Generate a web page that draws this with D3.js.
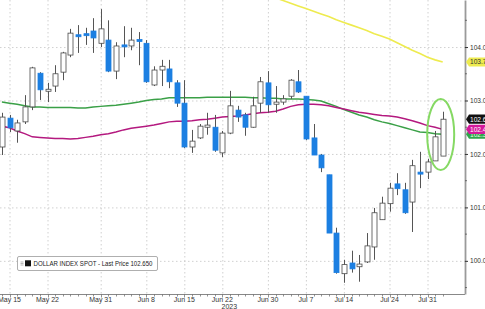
<!DOCTYPE html>
<html>
<head>
<meta charset="utf-8">
<script src="https://cdn.jsdelivr.net/npm/d3@7"></script>
<style>
body { margin: 0; background: #fff; }
svg { display: block; font-family: "Liberation Sans", Arial, sans-serif; }
</style>
</head>
<body>
<div id="chart"></div>
<script>
var dates = [
    "2023-05-12",
    "2023-05-15", "2023-05-16", "2023-05-17", "2023-05-18", "2023-05-19",
    "2023-05-22", "2023-05-23", "2023-05-24", "2023-05-25", "2023-05-26",
    "2023-05-29", "2023-05-30", "2023-05-31", "2023-06-01", "2023-06-02",
    "2023-06-05", "2023-06-06", "2023-06-07", "2023-06-08", "2023-06-09",
    "2023-06-12", "2023-06-13", "2023-06-14", "2023-06-15", "2023-06-16",
    "2023-06-19", "2023-06-20", "2023-06-21", "2023-06-22", "2023-06-23",
    "2023-06-26", "2023-06-27", "2023-06-28", "2023-06-29", "2023-06-30",
    "2023-07-03", "2023-07-04", "2023-07-05", "2023-07-06", "2023-07-07",
    "2023-07-10", "2023-07-11", "2023-07-12", "2023-07-13", "2023-07-14",
    "2023-07-17", "2023-07-18", "2023-07-19", "2023-07-20", "2023-07-21",
    "2023-07-24", "2023-07-25", "2023-07-26", "2023-07-27", "2023-07-28",
    "2023-07-31", "2023-08-01", "2023-08-02"
];

var opens = [
    102.13,
    102.67, 102.43, 102.60, 102.88, 103.51,
    103.19, 103.27, 103.53, 103.85, 104.23,
    104.25, 104.30, 104.07, 104.13, 103.55,
    104.04, 104.02, 104.14, 104.07, 103.29,
    103.57, 103.59, 103.33, 102.95, 102.13,
    102.30, 102.50, 102.50, 102.02, 102.39,
    102.82, 102.73, 102.50, 102.95, 103.33,
    102.93, 102.97, 103.08, 103.35, 103.08,
    102.30, 101.98, 101.61, 100.52, 99.76,
    99.96, 99.89, 99.98, 100.26, 100.77,
    101.07, 101.44, 101.33, 101.10, 101.66,
    101.66, 101.87, 101.96
];
var highs = [
    102.77,
    102.73, 102.64, 103.10, 103.63, 103.53,
    103.33, 103.66, 103.91, 104.34, 104.41,
    104.36, 104.54, 104.71, 104.50, 104.09,
    104.39, 104.36, 104.28, 104.13, 103.64,
    103.76, 103.76, 103.38, 103.38, 102.45,
    102.56, 102.77, 102.73, 102.43, 103.18,
    102.90, 102.77, 103.07, 103.44, 103.55,
    103.27, 103.10, 103.40, 103.57, 103.08,
    102.56, 102.00, 101.61, 100.62, 100.02,
    100.19, 100.11, 100.52, 100.99, 101.20,
    101.46, 101.64, 101.46, 101.89, 102.04,
    101.91, 102.43, 102.79
];
var lows = [
    101.98,
    102.41, 102.21, 102.56, 102.82, 103.01,
    102.97, 103.16, 103.38, 103.81, 103.89,
    104.04, 103.89, 104.00, 103.53, 103.40,
    103.81, 103.94, 103.66, 103.33, 103.27,
    103.27, 103.23, 102.88, 102.11, 102.02,
    102.28, 102.36, 102.04, 101.94, 102.37,
    102.60, 102.34, 102.49, 102.77, 102.77,
    102.77, 102.92, 103.03, 103.14, 102.26,
    101.98, 101.66, 100.52, 99.76, 99.59,
    99.78, 99.61, 99.96, 100.02, 100.77,
    100.92, 101.23, 100.88, 100.54, 101.36,
    101.53, 101.87, 101.96
];
var closes = [
    102.69,
    102.49, 102.58, 102.88, 103.61, 103.20,
    103.21, 103.50, 103.89, 104.26, 104.20,
    104.22, 104.17, 104.34, 103.55, 104.02,
    104.01, 104.13, 104.11, 103.35, 103.57,
    103.64, 103.35, 102.95, 102.13, 102.24,
    102.52, 102.54, 102.07, 102.39, 102.90,
    102.69, 102.50, 102.90, 103.35, 102.92,
    102.97, 103.03, 103.38, 103.16, 102.28,
    101.98, 101.74, 100.52, 99.78, 99.93,
    99.85, 99.94, 100.28, 100.90, 101.08,
    101.36, 101.35, 100.90, 101.78, 101.63,
    101.85, 102.32, 102.65
];

// moving averages, one value per date
var maGreen = [
    102.97,
    102.95, 102.93, 102.90, 102.88, 102.88,
    102.87, 102.87, 102.87, 102.87, 102.86,
    102.86, 102.88, 102.89, 102.90, 102.91,
    102.93, 102.95, 102.97, 103.00, 103.02,
    103.03, 103.05, 103.05, 103.05, 103.05,
    103.05, 103.06, 103.06, 103.06, 103.06,
    103.06, 103.06, 103.05, 103.05, 103.04,
    103.04, 103.03, 103.03, 103.03, 103.02,
    103.01, 102.99, 102.94, 102.89, 102.83,
    102.78, 102.73, 102.69, 102.64, 102.60,
    102.57, 102.53, 102.49, 102.45, 102.41,
    102.40, 102.38, 102.37
];
var maMagenta = [
    102.52,
    102.49, 102.43, 102.38, 102.32, 102.31,
    102.30, 102.29, 102.29, 102.28, 102.29,
    102.31, 102.33, 102.36, 102.38, 102.41,
    102.45, 102.48, 102.50, 102.52, 102.54,
    102.57, 102.60, 102.61, 102.61, 102.62,
    102.64, 102.65, 102.67, 102.69, 102.70,
    102.71, 102.73, 102.75, 102.77, 102.78,
    102.80, 102.84, 102.89, 102.92, 102.93,
    102.93, 102.92, 102.90, 102.87, 102.84,
    102.81, 102.78, 102.76, 102.74, 102.72,
    102.71, 102.69, 102.66, 102.62, 102.58,
    102.53, 102.50, 102.46
];
// yellow average only enters the window from early July
var maYellowStart = "2023-07-03";
var maYellow = [
    104.92, 104.87, 104.82, 104.77, 104.72,
    104.67, 104.62, 104.57, 104.51, 104.46,
    104.41, 104.36, 104.31, 104.25, 104.20,
    104.15, 104.08, 104.01, 103.94, 103.88,
    103.81, 103.76, 103.72
];

var labelDates = ["2023-05-15", "2023-05-22", "2023-05-31", "2023-06-08", "2023-06-15", "2023-06-22",
    "2023-06-30", "2023-07-07", "2023-07-14", "2023-07-24", "2023-07-31"];
var priceTicks = [100, 101, 102, 103, 104];
var minorTicks = [99.5, 100.5, 101.5, 102.5, 103.5, 104.5];
var seriesName = "DOLLAR INDEX SPOT";

var width = 485,
    height = 309;
var plotRight = 465,
    plotBottom = 294;

var blue = "#1c7fe2",
    greenLine = "#3aa047",
    magenta = "#b4197f",
    yellow = "#eeeb4f";

var parse = d3.timeParse("%Y-%m-%d");
var fmtDay = d3.timeFormat("%b %-d");

var candles = dates.map(function (d, i) {
    return { date: d, open: opens[i], high: highs[i], low: lows[i], close: closes[i] };
});

var svg = d3.select("#chart").append("svg").attr("width", width).attr("height", height);

var x = d3.scalePoint().domain(dates).range([1.9, 442.7]);
var y = d3.scaleLinear().domain([99.38, 104.88]).range([plotBottom, 0]);

svg.append("clipPath").attr("id", "plotClip")
    .append("rect").attr("x", 0).attr("y", 0).attr("width", plotRight).attr("height", plotBottom);

// grid
var grid = svg.append("g").attr("stroke", "#c4c4c4").attr("stroke-width", 0.8).attr("stroke-dasharray", "1.5,2.5");
grid.selectAll(".hgrid").data(priceTicks).join("line")
    .attr("x1", 0).attr("x2", plotRight)
    .attr("y1", d => y(d) + 0.5).attr("y2", d => y(d) + 0.5);
grid.selectAll(".vgrid").data(labelDates).join("line")
    .attr("x1", d => x(d) + 0.5).attr("x2", d => x(d) + 0.5)
    .attr("y1", 0).attr("y2", plotBottom);

var plot = svg.append("g").attr("clip-path", "url(#plotClip)");

// moving averages
function maLine(values, startIdx) {
    return d3.line()
        .x(function (v, i) { return x(dates[i + startIdx]); })
        .y(function (v) { return y(v); })(values);
}
plot.append("path").attr("d", maLine(maYellow, dates.indexOf(maYellowStart)))
    .attr("fill", "none").attr("stroke", yellow).attr("stroke-width", 1.6);
plot.append("path").attr("d", maLine(maGreen, 0))
    .attr("fill", "none").attr("stroke", greenLine).attr("stroke-width", 1.5);
plot.append("path").attr("d", maLine(maMagenta, 0))
    .attr("fill", "none").attr("stroke", magenta).attr("stroke-width", 1.5);

// candles
var candle = plot.append("g").selectAll("g").data(candles).join("g");
candle.append("line")
    .attr("x1", d => Math.round(x(d.date)) + 0.5)
    .attr("x2", d => Math.round(x(d.date)) + 0.5)
    .attr("y1", d => y(d.high))
    .attr("y2", d => y(d.low))
    .attr("stroke", "#555")
    .attr("stroke-width", 1);
candle.append("rect")
    .attr("x", d => Math.round(x(d.date)) - 2)
    .attr("width", 5)
    .attr("y", d => y(Math.max(d.open, d.close)))
    .attr("height", d => Math.max(2, Math.abs(y(d.open) - y(d.close))))
    .attr("fill", d => d.close >= d.open ? "#fff" : blue)
    .attr("stroke", d => d.close >= d.open ? "#4a4a4a" : blue)
    .attr("stroke-width", 0.8);

// highlight ring round the last two sessions
var lastDate = dates[dates.length - 1];
svg.append("ellipse")
    .attr("cx", x(lastDate) - 2)
    .attr("cy", (y(103.03) + y(101.70)) / 2)
    .attr("rx", 13.5)
    .attr("ry", (y(101.70) - y(103.03)) / 2)
    .attr("fill", "none")
    .attr("stroke", "#86d964")
    .attr("stroke-width", 2);

// bottom axis
svg.append("line").attr("x1", 0).attr("x2", plotRight)
    .attr("y1", plotBottom + 0.5).attr("y2", plotBottom + 0.5)
    .attr("stroke", "#888").attr("stroke-width", 1);
svg.append("g").selectAll("line").data(dates).join("line")
    .attr("x1", d => Math.round(x(d)) + 0.5).attr("x2", d => Math.round(x(d)) + 0.5)
    .attr("y1", plotBottom).attr("y2", d => labelDates.indexOf(d) >= 0 ? plotBottom + 3.5 : plotBottom + 2.5)
    .attr("stroke", "#777").attr("stroke-width", 0.8);
svg.append("g").selectAll("text").data(labelDates).join("text")
    .attr("x", d => x(d))
    .attr("y", 301.5)
    .attr("text-anchor", "middle")
    .attr("font-size", "7px")
    .attr("fill", "#333")
    .text(d => fmtDay(parse(d)));
svg.append("text")
    .attr("x", x("2023-06-22") + 7)
    .attr("y", 308.5)
    .attr("text-anchor", "middle")
    .attr("font-size", "7px")
    .attr("fill", "#333")
    .text("2023");

// right axis
var yAxis = d3.axisRight(y).tickValues(priceTicks).tickFormat(d3.format(".1f")).tickSize(3).tickSizeOuter(0).tickPadding(2);
var axisG = svg.append("g").attr("transform", "translate(" + plotRight + ",0)").call(yAxis);
axisG.select(".domain").attr("stroke", "#9a9a9a").attr("stroke-width", 1.8);
axisG.selectAll(".tick line").attr("stroke", "#333").attr("stroke-width", 1);
axisG.selectAll(".tick text").attr("font-size", "6.6px").attr("fill", "#333")
    .attr("font-family", "\"Liberation Sans\", Arial, sans-serif");
axisG.selectAll(".minor").data(minorTicks).join("line")
    .attr("class", "minor")
    .attr("x1", 0).attr("x2", 2)
    .attr("y1", d => y(d)).attr("y2", d => y(d))
    .attr("stroke", "#555").attr("stroke-width", 0.8);

// last value tags on the axis
function trunc1(v) {
    return (Math.floor(v * 10 + 1e-6) / 10).toFixed(1);
}
var tags = [
    { value: maYellow[maYellow.length - 1], fill: yellow, color: "#333" },
    { value: maGreen[maGreen.length - 1], fill: "#2fa64a", color: "#e8ffe8" },
    { value: maMagenta[maMagenta.length - 1], fill: "#d4199b", color: "#fff" },
    { value: closes[closes.length - 1], fill: "#111", color: "#fff" }
];
var tagG = svg.append("g").selectAll("g").data(tags).join("g")
    .attr("transform", d => "translate(" + (plotRight + 1) + "," + y(d.value) + ")");
tagG.append("path")
    .attr("d", "M0,0 L3,-4.6 L20,-4.6 L20,4.6 L3,4.6 Z")
    .attr("fill", d => d.fill);
tagG.append("text")
    .attr("x", 4)
    .attr("y", 2.4)
    .attr("font-size", "6.6px")
    .attr("fill", d => d.color)
    .text(d => trunc1(d.value));

// legend
var legend = svg.append("g").attr("transform", "translate(17.5,256.5)");
legend.append("rect")
    .attr("width", 140).attr("height", 14).attr("rx", 1.5)
    .attr("fill", "#fff").attr("stroke", "#9a9a9a").attr("stroke-width", 0.8);
legend.selectAll(".bar").data([0, 1, 2]).join("line")
    .attr("x1", 3).attr("x2", 6)
    .attr("y1", d => 5.5 + d * 1.5).attr("y2", d => 5.5 + d * 1.5)
    .attr("stroke", "#888").attr("stroke-width", 0.6);
legend.append("rect")
    .attr("x", 7.5).attr("y", 3.8).attr("width", 6).attr("height", 6)
    .attr("fill", "#111");
legend.append("text")
    .attr("x", 16)
    .attr("y", 9.6)
    .attr("font-size", "6.8px")
    .attr("fill", "#222")
    .attr("textLength", 119)
    .attr("lengthAdjust", "spacingAndGlyphs")
    .text(seriesName + " - Last Price " + d3.format(".3f")(closes[closes.length - 1]));
</script>
</body>
</html>
